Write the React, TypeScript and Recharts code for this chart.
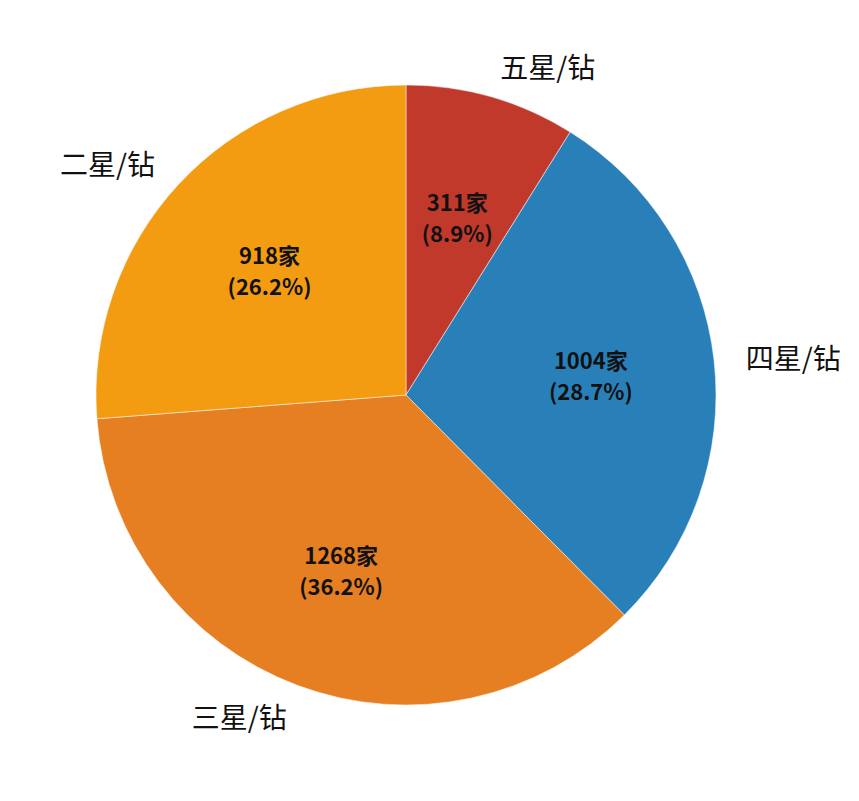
import { Cell, Pie, PieChart } from "recharts";

const categories = ["五星/钻", "四星/钻", "三星/钻", "二星/钻"];
const counts = [311, 1004, 1268, 918];
const percents = ["8.9%", "28.7%", "36.2%", "26.2%"];
const colors = ["#C0392B", "#2980B9", "#E67E22", "#F39C12"];

const data = categories.map((name, i) => ({
  name,
  value: counts[i],
  pct: percents[i],
}));

const RADIAN = Math.PI / 180;
const FONT = '"Noto Sans CJK SC", "Noto Sans", sans-serif';

function renderLabel(props: any) {
  const { cx, cy, midAngle, outerRadius, index } = props;
  const cos = Math.cos(-midAngle * RADIAN);
  const sin = Math.sin(-midAngle * RADIAN);
  const rIn = outerRadius * 0.6;
  const ix = cx + rIn * cos;
  const iy = cy + rIn * sin;
  const rOut = outerRadius + 32;
  const ox = cx + rOut * cos;
  const oy = cy + rOut * sin;
  return (
    <g>
      <text
        x={ix}
        y={iy - 15}
        textAnchor="middle"
        dominantBaseline="central"
        fontFamily={FONT}
        fontSize={22}
        fontWeight="bold"
        fill="#111"
      >
        {`${counts[index]}家`}
      </text>
      <text
        x={ix}
        y={iy + 16}
        textAnchor="middle"
        dominantBaseline="central"
        fontFamily={FONT}
        fontSize={22}
        fontWeight="bold"
        fill="#111"
      >
        {`(${percents[index]})`}
      </text>
      <text
        x={ox}
        y={oy}
        textAnchor={ox > cx ? "start" : "end"}
        dominantBaseline="central"
        fontFamily={FONT}
        fontSize={28}
        fill="#111"
      >
        {categories[index]}
      </text>
    </g>
  );
}

export default function App() {
  return (
    <div style={{ width: 843, height: 785, background: "#fff" }}>
      <PieChart width={843} height={785}>
        <Pie
          data={data}
          dataKey="value"
          nameKey="name"
          cx={393}
          cy={382}
          outerRadius={310}
          startAngle={90}
          endAngle={-270}
          stroke="#ffffff"
          strokeWidth={0.5}
          label={renderLabel}
          labelLine={false}
          isAnimationActive={false}
        >
          {data.map((d, i) => (
            <Cell key={d.name} fill={colors[i]} />
          ))}
        </Pie>
      </PieChart>
    </div>
  );
}
